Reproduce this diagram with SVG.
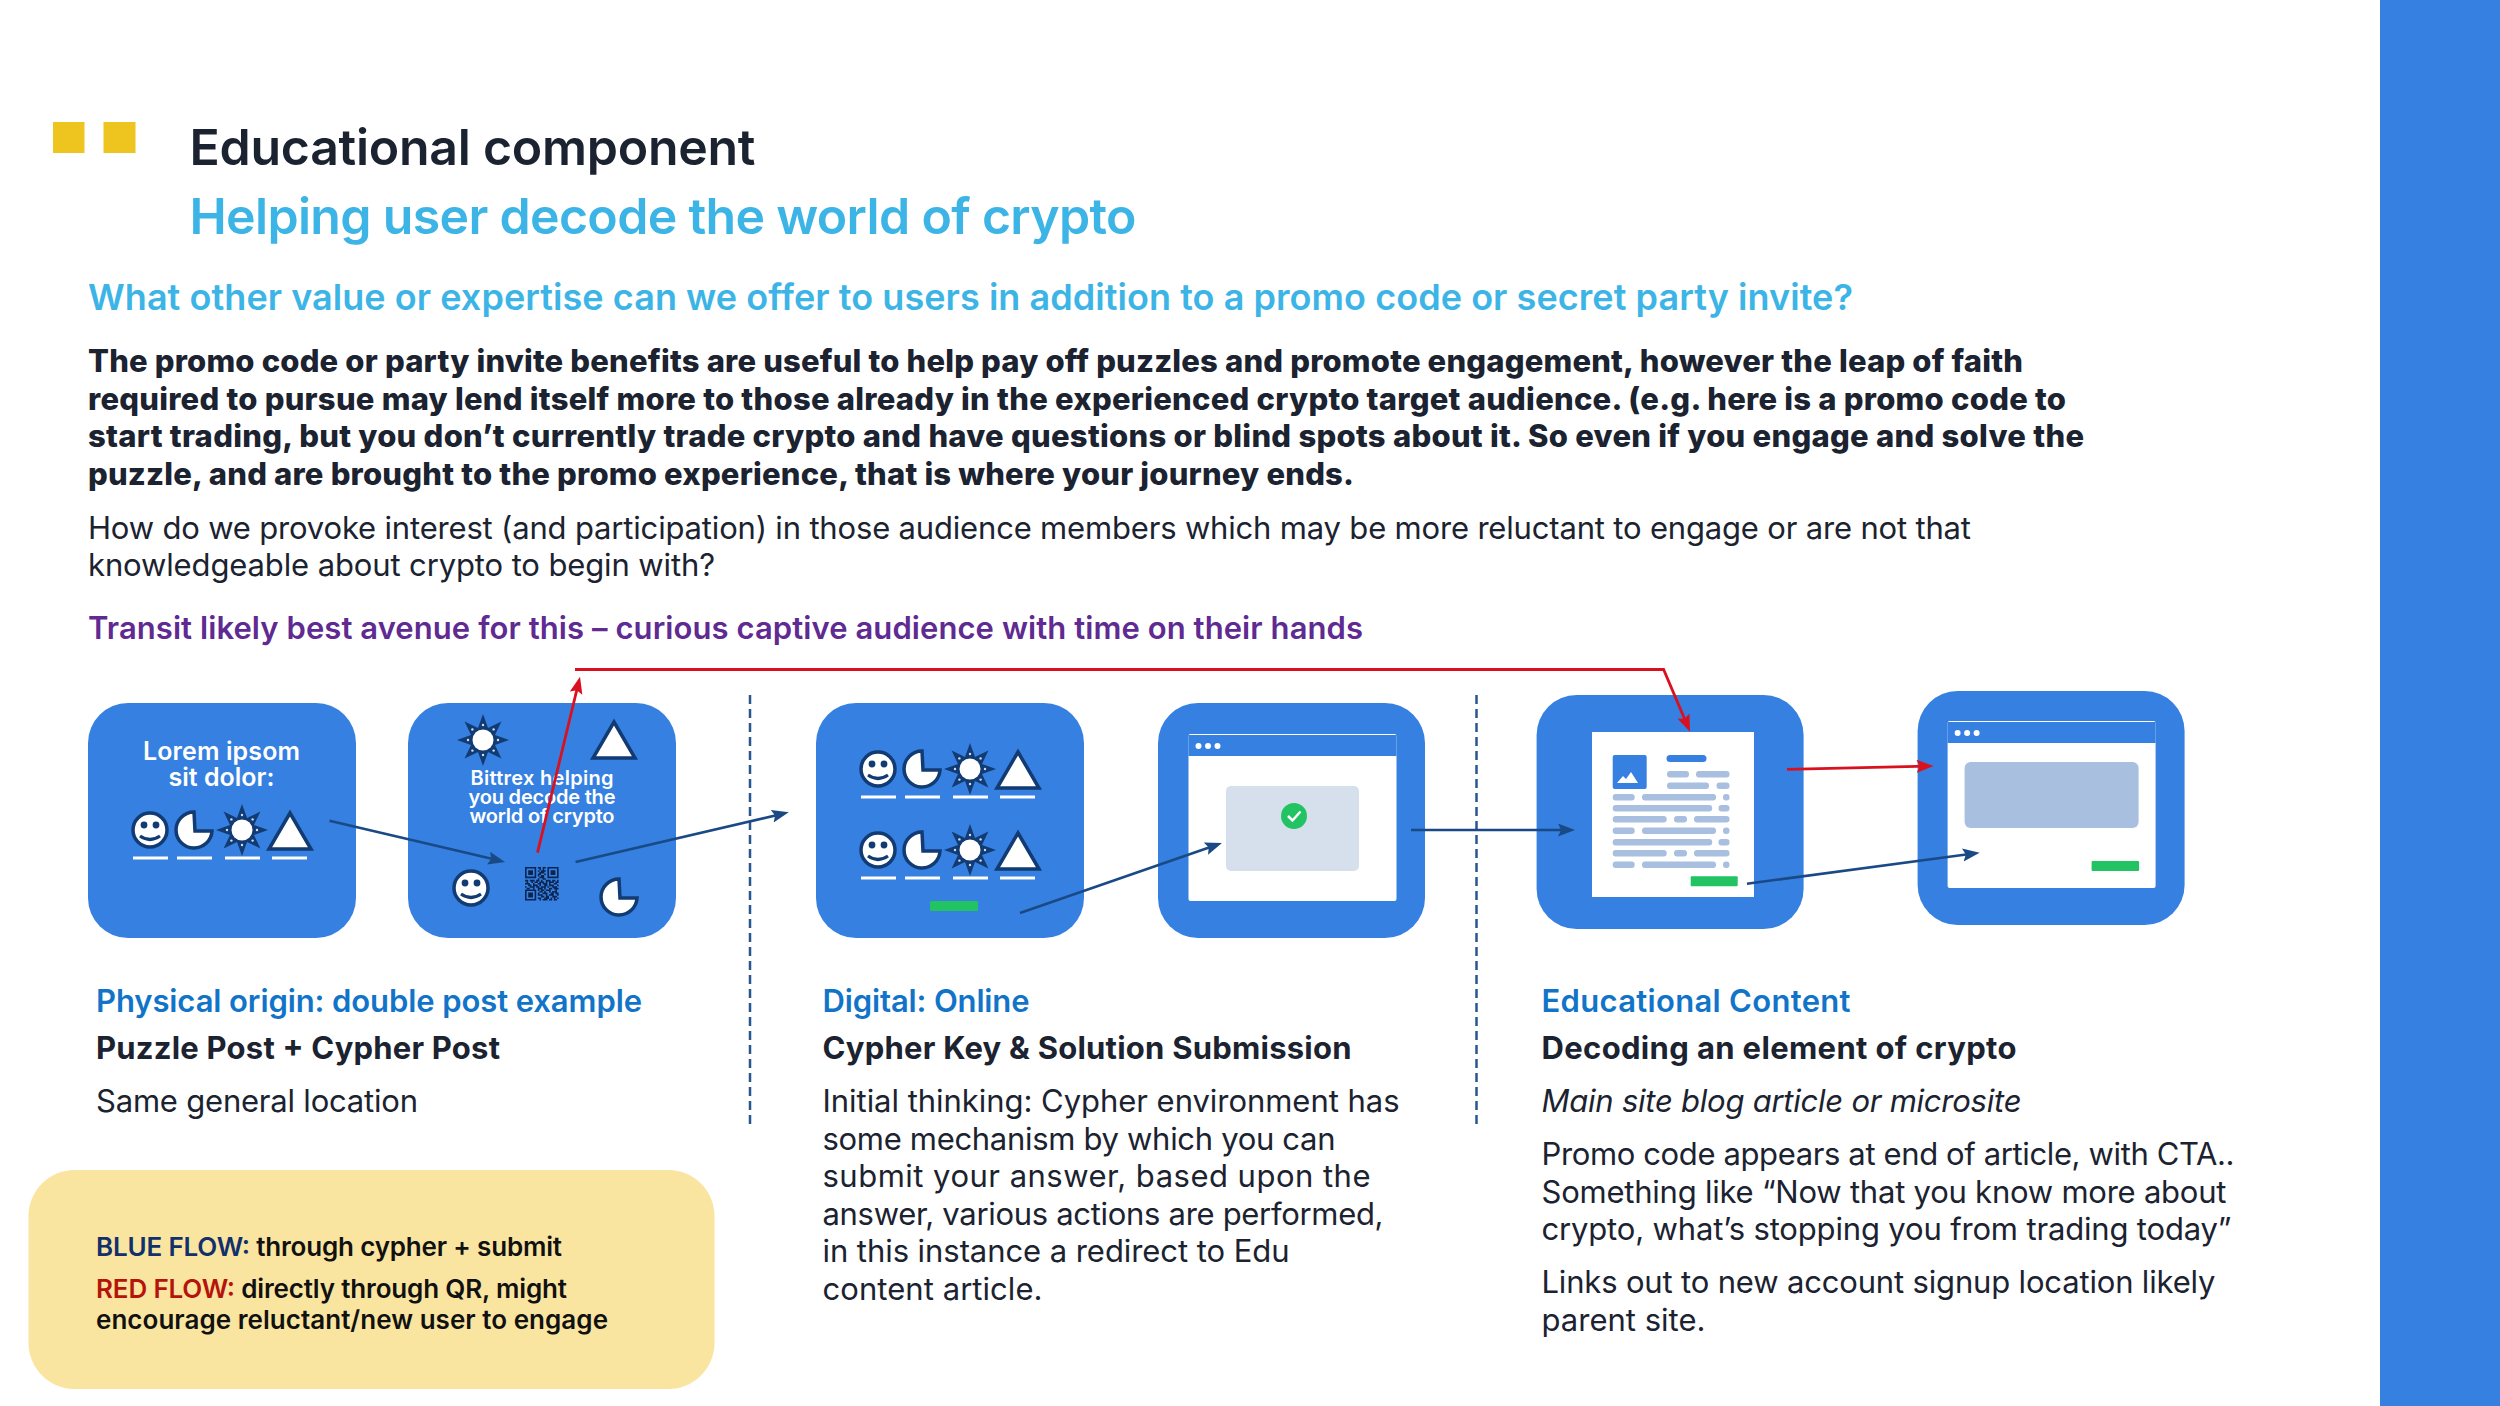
<svg xmlns="http://www.w3.org/2000/svg" xmlns:xlink="http://www.w3.org/1999/xlink" width="2500" height="1406" viewBox="0 0 2500 1406">
<style>
text{font-family:"Inter","Noto Sans","Liberation Sans",sans-serif;fill:#1b2230}
.t1{font-size:50px;font-weight:600}
.t2{font-size:50px;font-weight:600;fill:#3db4e6}
.q{font-size:36px;font-weight:600;fill:#3db4e6}
.b{font-size:31px;font-weight:800}
.p{font-size:31px;font-weight:400}
.pur{font-size:31px;font-weight:600;fill:#5f2a91}
.h{font-size:31px;font-weight:600;fill:#1174c8}
.s{font-size:31px;font-weight:700}
.i{font-style:italic}
.leg{font-size:26px;font-weight:600;fill:#111}
.cw{fill:#fff;font-weight:600;text-anchor:middle}
.card{fill:#3580e0}
.sheet{fill:#fff}
.pill{fill:#a8bfdf}
.green{fill:#22c362}
.ul{stroke:#fff;stroke-width:3;fill:none}
.ic{fill:#fff;stroke:#123a73;stroke-width:3.5}
.nv{fill:#123a73}
.dash{stroke:#2a5690;stroke-width:2.5;stroke-dasharray:9 5;fill:none}
.fb{stroke:#1a4a86;stroke-width:2.6;fill:none;marker-end:url(#ab)}
.fr{stroke:#d9111f;stroke-width:2.8;fill:none;marker-end:url(#ar)}
</style>
<defs>
<marker id="ab" markerUnits="userSpaceOnUse" markerWidth="20" markerHeight="16" refX="11" refY="6.500" orient="auto"><path d="M0 0L17 6.500L0 13L3 6.500Z" fill="#1a4a86"/></marker>
<marker id="ar" markerUnits="userSpaceOnUse" markerWidth="20" markerHeight="16" refX="11" refY="6.500" orient="auto"><path d="M0 0L17 6.500L0 13L3 6.500Z" fill="#d9111f"/></marker>
<g id="smiley"><circle class="ic" r="17"/><circle class="nv" cx="-6" cy="-5" r="3.4"/><circle class="nv" cx="6" cy="-5" r="3.4"/><path d="M-10 6Q0 13 10 6" fill="none" stroke="#123a73" stroke-width="3.2"/></g>
<path id="pie" class="ic" d="M0 -18A18 18 0 1 0 18 1L1 1Z"/>
<g id="sun"><path class="nv" d="M0 -26L5 -12L18.4 -18.4L12 -5L26 0L12 5L18.4 18.4L5 12L0 26L-5 12L-18.4 18.4L-12 5L-26 0L-12 -5L-18.4 -18.4L-5 -12Z"/><circle r="10.5" fill="#fff"/><g fill="#cfe0f6"><circle cx="0" cy="-15" r="1.2"/><circle cx="0" cy="15" r="1.2"/><circle cx="15" cy="0" r="1.2"/><circle cx="-15" cy="0" r="1.2"/><circle cx="10.6" cy="-10.6" r="1.2"/><circle cx="-10.6" cy="-10.6" r="1.2"/><circle cx="10.6" cy="10.6" r="1.2"/><circle cx="-10.6" cy="10.6" r="1.2"/></g></g>
<path id="tri" class="ic" d="M0 -33L21 3L-21 3Z"/>
<g id="row"><use href="#smiley" x="0"/><use href="#pie" x="44"/><use href="#sun" x="92"/><use href="#tri" x="140" y="16"/><path class="ul" d="M-17 28h35M27 28h35M75 28h35M122 28h35"/></g>
<g id="topbar"><rect width="208" height="21" fill="#3580e0"/><circle cx="10" cy="11" r="3" fill="#fff"/><circle cx="19.5" cy="11" r="3" fill="#fff"/><circle cx="29" cy="11" r="3" fill="#fff"/></g>
</defs>

<rect width="2500" height="1406" fill="#fff"/>
<rect id="side-bar" x="2380" y="0" width="120" height="1406" fill="#3580e0"/>
<g id="header">
<rect x="53" y="122" width="31.500" height="31" fill="#eec51f"/><rect x="103.500" y="122" width="32" height="31" fill="#eec51f"/>
<text class="t1" x="189.500" y="165" textLength="566">Educational component</text>
<text class="t2" x="189.500" y="234" textLength="947">Helping user decode the world of crypto</text>
</g>
<g id="intro">
<text class="q" x="88" y="310" textLength="1765">What other value or expertise can we offer to users in addition to a promo code or secret party invite?</text>
<text class="b" x="88" y="372" textLength="1935">The promo code or party invite benefits are useful to help pay off puzzles and promote engagement, however the leap of faith</text>
<text class="b" x="88" y="410" textLength="1978">required to pursue may lend itself more to those already in the experienced crypto target audience. (e.g. here is a promo code to</text>
<text class="b" x="88" y="447" textLength="1996">start trading, but you don’t currently trade crypto and have questions or blind spots about it. So even if you engage and solve the</text>
<text class="b" x="88" y="485" textLength="1266">puzzle, and are brought to the promo experience, that is where your journey ends.</text>
<text class="p" x="88" y="539" textLength="1883">How do we provoke interest (and participation) in those audience members which may be more reluctant to engage or are not that</text>
<text class="p" x="88" y="576" textLength="627">knowledgeable about crypto to begin with?</text>
<text class="pur" x="88" y="639" textLength="1275">Transit likely best avenue for this – curious captive audience with time on their hands</text>
</g>

<g id="node-puzzle-post">
<rect class="card" x="88" y="703" width="268" height="235" rx="40"/>
<text class="cw" x="221.5" y="760" font-size="25" textLength="157">Lorem ipsom</text>
<text class="cw" x="221.5" y="786" font-size="25" textLength="106">sit dolor:</text>
<use href="#row" x="150" y="830"/>
</g>
<g id="node-cypher-post">
<rect class="card" x="408" y="703" width="268" height="235" rx="40"/>
<use href="#sun" x="483" y="740"/>
<use href="#tri" x="614" y="755"/>
<text class="cw" x="542" y="785" font-size="20" textLength="143">Bittrex helping</text>
<text class="cw" x="542" y="804" font-size="20" textLength="147">you decode the</text>
<text class="cw" x="542" y="823" font-size="20" textLength="145">world of crypto</text>
<use href="#smiley" x="471" y="888"/>
<use href="#pie" x="619" y="897"/>
<g transform="translate(525 867) scale(1.6)">
<path fill="#0b2550" fill-rule="evenodd" d="M0 0h7v7h-7ZM1 1v5h5v-5ZM2 2h3v3h-3ZM14 0h7v7h-7ZM15 1v5h5v-5ZM16 2h3v3h-3ZM0 14h7v7h-7ZM1 15v5h5v-5ZM2 16h3v3h-3Z"/>
<path stroke="#0b2550" fill="none" d="M8 .5h2M11 .5h2M9 1.5h1M11 1.5h1M8 2.5h1M10 2.5h3M9 3.5h3M8 4.5h2M12 4.5h1M8 5.5h1M10 5.5h2M9 6.5h3M8 7.5h1M11 7.500h2M0 8.5h2M3 8.5h3M7 8.5h2M10 8.5h1M13 8.5h3M17 8.5h2M20 8.5h1M1 9.5h1M4 9.5h1M6 9.5h2M9 9.5h3M13 9.5h1M15 9.5h3M19 9.5h2M0 10.5h3M5 10.5h1M8 10.5h2M11 10.5h3M15 10.5h1M18 10.5h2M2 11.5h2M5 11.5h3M9 11.5h1M12 11.5h2M15 11.5h3M20 11.5h1M0 12.5h1M3 12.5h3M7 12.5h2M10 12.5h3M14 12.5h1M17 12.5h3M1 13.5h2M5 13.5h1M8 13.5h3M12 13.5h1M15 13.5h2M18 13.5h3M8 14.5h1M10 14.5h2M13 14.5h3M19 14.5h1M9 15.5h2M12 15.5h1M15 15.5h1M17 15.5h3M8 16.5h1M11 16.5h3M16 16.5h2M19 16.5h2M8 17.5h3M13 17.5h1M15 17.5h3M20 17.5h1M10 18.5h2M13 18.5h2M17 18.5h3M8 19.5h2M12 19.5h3M16 19.5h1M18 19.5h1M20 19.5h1M9 20.5h1M11 20.5h3M15 20.5h2M18 20.5h2"/>
</g>
</g>
<g id="node-puzzle-online">
<rect class="card" x="816" y="703" width="268" height="235" rx="40"/>
<use href="#row" x="878" y="769"/>
<use href="#row" x="878" y="850"/>
<rect class="green" x="930" y="901" width="48" height="10" rx="1.5"/>
</g>
<g id="node-submission">
<rect class="card" x="1158" y="703" width="267" height="235" rx="40"/>
<rect class="sheet" x="1188.500" y="734" width="208" height="167" rx="2"/>
<use href="#topbar" x="1188.500" y="735"/>
<rect x="1226" y="786" width="133" height="85" rx="5" fill="#d6e0ec"/>
<circle class="green" cx="1294" cy="816" r="13"/>
<path d="M1288 816l4.500 4.500l8-9" fill="none" stroke="#fff" stroke-width="2.500"/>
</g>
<g id="node-article">
<rect class="card" x="1536.600" y="695" width="267" height="234" rx="40"/>
<rect class="sheet" x="1592" y="732" width="162" height="165"/>
<rect class="card" x="1612.700" y="755" width="34" height="34" rx="2"/>
<path d="M1617 783l6-7l3 3l5-7l7 11Z" fill="#fff"/>
<rect class="card" x="1666.500" y="755" width="40" height="7" rx="3.500"/>
<g class="pill">
<rect x="1667" y="771" width="22" height="6.500" rx="3"/><rect x="1696" y="771" width="33.500" height="6.500" rx="3"/>
<rect x="1667" y="782.500" width="42" height="6.500" rx="3"/><rect x="1716.500" y="782.500" width="13" height="6.500" rx="3"/>
<rect x="1612.700" y="794" width="22" height="6.500" rx="3"/><rect x="1642" y="794" width="74" height="6.500" rx="3"/><rect x="1723" y="794" width="6.500" height="6.500" rx="3"/>
<rect x="1612.700" y="805" width="99.500" height="6.500" rx="3"/><rect x="1718.500" y="805" width="11" height="6.500" rx="3"/>
<rect x="1612.700" y="816" width="54" height="6.500" rx="3"/><rect x="1674" y="816" width="13" height="6.500" rx="3"/><rect x="1694" y="816" width="35.500" height="6.500" rx="3"/>
<rect x="1612.700" y="827.500" width="22" height="6.500" rx="3"/><rect x="1642" y="827.500" width="74" height="6.500" rx="3"/><rect x="1723" y="827.500" width="6.500" height="6.500" rx="3"/>
<rect x="1612.700" y="839" width="99.500" height="6.500" rx="3"/><rect x="1718.500" y="839" width="11" height="6.500" rx="3"/>
<rect x="1612.700" y="850" width="54" height="6.500" rx="3"/><rect x="1674" y="850" width="13" height="6.500" rx="3"/><rect x="1694" y="850" width="35.500" height="6.500" rx="3"/>
<rect x="1612.700" y="861.500" width="22" height="6.500" rx="3"/><rect x="1642" y="861.500" width="74" height="6.500" rx="3"/><rect x="1723" y="861.500" width="6.500" height="6.500" rx="3"/>
</g>
<rect class="green" x="1690.700" y="876.300" width="47" height="10" rx="1"/>
</g>
<g id="node-signup">
<rect class="card" x="1917.600" y="691" width="267" height="234" rx="40"/>
<rect class="sheet" x="1947.600" y="721" width="208" height="167" rx="2"/>
<use href="#topbar" x="1947.600" y="722"/>
<rect class="pill" x="1964.600" y="762" width="174" height="66" rx="6"/>
<rect class="green" x="2091.600" y="861" width="47.500" height="10" rx="1"/>
</g>

<g id="caption-physical">
<text class="h" x="96" y="1012" textLength="546">Physical origin: double post example</text>
<text class="s" x="96" y="1059" textLength="404">Puzzle Post + Cypher Post</text>
<text class="p" x="96" y="1112" textLength="322">Same general location</text>
</g>
<g id="caption-digital">
<text class="h" x="822.500" y="1012" textLength="207">Digital: Online</text>
<text class="s" x="822.500" y="1059" textLength="529">Cypher Key &amp; Solution Submission</text>
<text class="p" x="822.500" y="1112" textLength="577">Initial thinking: Cypher environment has</text>
<text class="p" x="822.500" y="1150" textLength="513">some mechanism by which you can</text>
<text class="p" x="822.500" y="1187" textLength="548">submit your answer, based upon the</text>
<text class="p" x="822.500" y="1225" textLength="561">answer, various actions are performed,</text>
<text class="p" x="822.500" y="1262" textLength="467">in this instance a redirect to Edu</text>
<text class="p" x="822.500" y="1300" textLength="220">content article.</text>
</g>
<g id="caption-educational">
<text class="h" x="1541.500" y="1012" textLength="309">Educational Content</text>
<text class="s" x="1541.500" y="1059" textLength="475">Decoding an element of crypto</text>
<text class="p i" x="1541.500" y="1112" textLength="480">Main site blog article or microsite</text>
<text class="p" x="1541.500" y="1165" textLength="693">Promo code appears at end of article, with CTA..</text>
<text class="p" x="1541.500" y="1203" textLength="685">Something like “Now that you know more about</text>
<text class="p" x="1541.500" y="1240" textLength="690">crypto, what’s stopping you from trading today”</text>
<text class="p" x="1541.500" y="1293" textLength="674">Links out to new account signup location likely</text>
<text class="p" x="1541.500" y="1331" textLength="164">parent site.</text>
</g>
<g id="legend">
<rect x="28.500" y="1170" width="686" height="219" rx="46" fill="#fae5a0"/>
<text class="leg" x="96" y="1256" textLength="466"><tspan fill="#12306b">BLUE FLOW:</tspan> through cypher + submit</text>
<text class="leg" x="96" y="1298" textLength="471"><tspan fill="#b5140c">RED FLOW:</tspan> directly through QR, might</text>
<text class="leg" x="96" y="1329" textLength="512">encourage reluctant/new user to engage</text>
</g>

<g id="connectors">
<path class="dash" d="M750 695V1129"/>
<path class="dash" d="M1476.500 695V1129"/>
<path class="fb" d="M329.500 820.700L499.200 860.600"/>
<path class="fb" d="M575.600 862L782.900 813.700"/>
<path class="fb" d="M1020 913L1216.300 845"/>
<path class="fb" d="M1411 830H1569"/>
<path class="fb" d="M1747 883.700L1973.700 853.500"/>
<path class="fr" d="M537.500 852.700L578.600 682.500"/>
<path class="fr" d="M575 669.500H1663.600L1687.700 726.200"/>
<path class="fr" d="M1787 769.300L1927.600 766.100"/>
</g>
</svg>
